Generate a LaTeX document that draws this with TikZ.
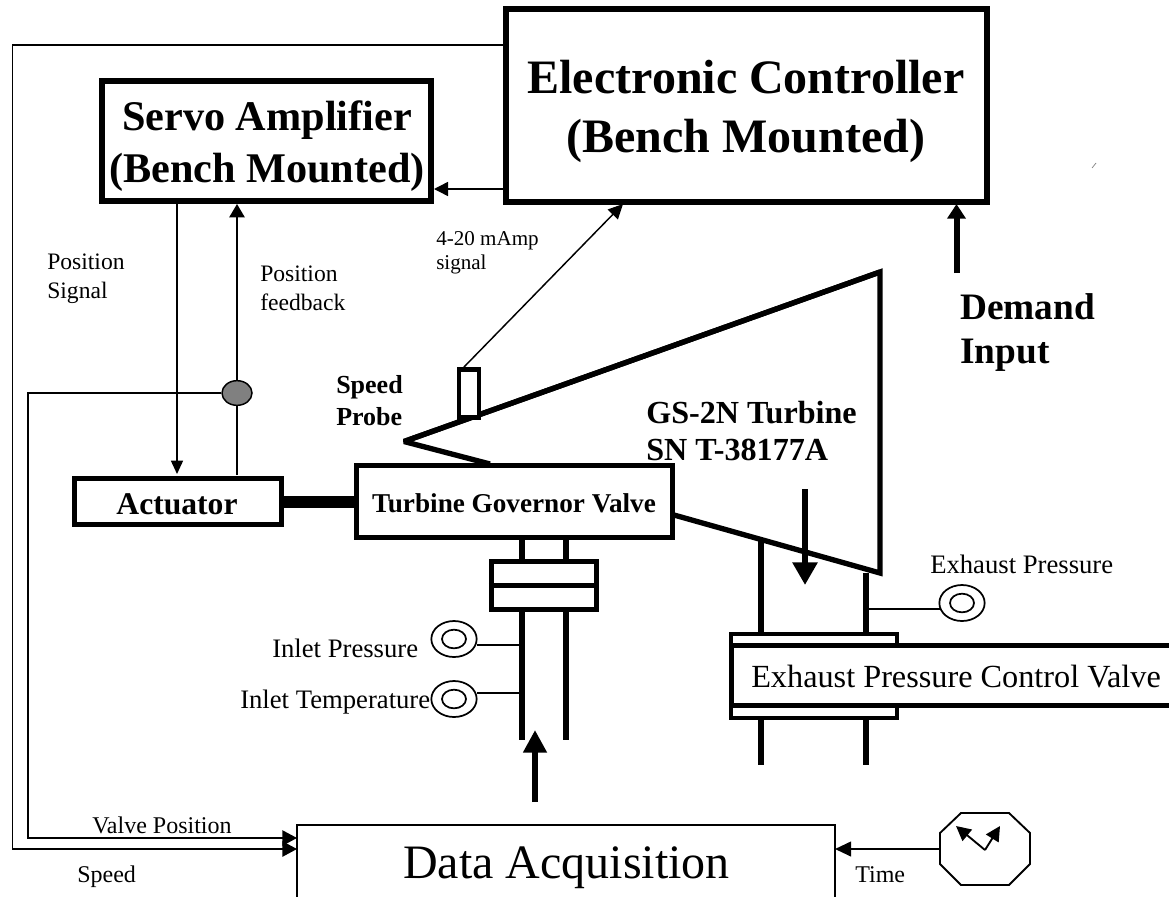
\documentclass[tikz,border=0pt]{standalone}
\usepackage{fontspec}
\setmainfont{Liberation Serif}
\usetikzlibrary{arrows.meta,shapes.geometric}
\tikzset{
  heavy/.style={draw=black,line width=3.75pt,fill=white,inner sep=0pt,minimum width=0pt},
  thin conn/.style={draw=black,line width=1.1pt},
  pipe/.style={draw=black,line width=3.9pt},
  label/.style={inner sep=0pt,anchor=base west},
  sensor/.style={draw=black,line width=1.3pt,fill=white,ellipse},
}
\begin{document}
\begin{tikzpicture}[x=0.75pt,y=-0.75pt]
\useasboundingbox (0,0) rectangle (1169,896);
\fill[white] (0,0) rectangle (1169,896);
% turbine
\coordinate (tipT) at (404,441.5);
\coordinate (tr) at (880,272);
\coordinate (br) at (880,573);
\coordinate (gv) at (674,515);
\coordinate (gt) at (490,464);
\draw[pipe,line width=4pt,line join=bevel] (gt) -- (tipT) -- (tr);
\draw[pipe,line width=4pt,miter limit=10] (tipT) -- (tr) -- (br) -- (gv);
% probe
\node[heavy,line width=3.4pt,minimum width=15pt,minimum height=36pt] (probe) at (469,393.5) {};
% main boxes
\node[heavy,line width=4.5pt,minimum width=360.5pt,minimum height=145pt] (ec) at (746.5,105.5) {};
\node[inner sep=0pt,align=center,font=\fontsize{36}{44}\bfseries\selectfont] (ect) at (746,111.5) {Electronic Controller\\(Bench Mounted)};
\node[heavy,line width=4.4pt,minimum width=247pt,minimum height=90pt] (sa) at (266.5,141) {};
\node[inner sep=0pt,align=center,font=\fontsize{31.7}{39}\bfseries\selectfont] (sat) at (267,146) {Servo Amplifier\\(Bench Mounted)};
\node[heavy,minimum width=155pt,minimum height=35pt] (act) at (178,501.5) {};
\node[inner sep=0pt,font=\fontsize{23.7}{26}\bfseries\selectfont] (actt) at (177,504) {Actuator};
\node[heavy,minimum width=237pt,minimum height=54pt] (gov) at (514,501.5) {};
\node[inner sep=0pt,font=\fontsize{20.4}{24}\bfseries\selectfont] (govt) at (514,503) {Turbine Governor Valve};
\draw[line width=9pt] (act.east) -- (gov.west);
% inlet pipes and flange
\coordinate (p1a) at (522,540); \coordinate (p2a) at (566,540);
\coordinate (p1b) at (522,740); \coordinate (p2b) at (566,740);
\draw[pipe] (p1a) -- (p1b);
\draw[pipe] (p2a) -- (p2b);
\node[heavy,minimum width=79pt,minimum height=36pt] (fl) at (544,585.5) {};
\draw[line width=3.75pt] (fl.west) -- (fl.east);
% inlet sensors
\foreach \n/\y/\ly in {ip/639/645,it/699/693}{
  \node[sensor,minimum width=34pt,minimum height=27pt,inner sep=0pt] (\n) at (454,\y) {};
  \node[sensor,minimum width=18pt,minimum height=14pt,inner sep=0pt] (\n i) at (454,\y) {};
  \coordinate (\n l) at (520,\ly);
  \coordinate (\n s) at (477,\ly);
  \draw[thin conn] (\n s) -- (\n l);
}
\node[label,font=\fontsize{20}{22}\selectfont] (ipt) at (272,657) {Inlet Pressure};
\node[label,font=\fontsize{20}{22}\selectfont] (itt) at (240,708) {Inlet Temperature};
% exhaust
\coordinate (e1a) at (761,540); \coordinate (e1b) at (761,632);
\coordinate (e2a) at (866,573); \coordinate (e2b) at (866,632);
\draw[pipe] (e1a) -- (e1b);
\draw[pipe] (e2a) -- (e2b);
\coordinate (e1c) at (761,720); \coordinate (e1d) at (761,765);
\coordinate (e2c) at (866,720); \coordinate (e2d) at (866,765);
\draw[pipe] (e1c) -- (e1d);
\draw[pipe] (e2c) -- (e2d);
\draw[draw=black,line width=3.4pt] (731,634) rectangle (897,718);
\draw[draw=black,line width=4.4pt,fill=white] (1185,645.5) -- (731.5,645.5) -- (731.5,705.5) -- (1185,705.5);
\node[label,font=\fontsize{24.2}{28}\selectfont] (ept) at (751,687) {Exhaust Pressure Control Valve};
\node[sensor,minimum width=34pt,minimum height=27pt,inner sep=0pt] (es) at (962,603) {};
\node[sensor,minimum width=18pt,minimum height=14pt,inner sep=0pt] (esi) at (962,603) {};
\coordinate (esa) at (866,609); \coordinate (esb) at (940,609);
\draw[thin conn] (esa) -- (esb);
\node[label,font=\fontsize{20}{22}\selectfont] (esl) at (930,573) {Exhaust Pressure};
% big arrows
\coordinate (xa) at (805,489); \coordinate (xb) at (805,585);
\draw[line width=5.2pt,-{Triangle[length=17pt,width=18pt]}] (xa) -- (xb);
\coordinate (ia) at (535,802); \coordinate (ib) at (535,730);
\draw[line width=4.5pt,-{Triangle[length=17pt,width=17pt]}] (ia) -- (ib);
\coordinate (da) at (956.5,273); \coordinate (db) at (956.5,204);
\draw[line width=4.5pt,-{Triangle[length=11pt,width=13.5pt]}] (da) -- (db);
% data acquisition
\draw[line width=1.5pt,fill=white] (297,905) -- (297,825) -- (835,825) -- (835,905);
\coordinate (dtop) at (297,838); \coordinate (dspd) at (297,849); \coordinate (dtime) at (835,849);
\node[label,font=\fontsize{36}{42}\selectfont] (dat) at (403,878) {Data Acquisition};
% clock
\draw[line width=1.4pt,fill=white] (961,813) -- (1009,813) -- (1030,833) -- (1030,864) -- (1009,885) -- (961,885) -- (940,864) -- (940,833) -- cycle;
\coordinate (cc) at (985,850);
\draw[line width=1.4pt,-{Triangle[length=11pt,width=11pt]}] (cc) -- (956,826);
\draw[line width=1.4pt,-{Triangle[length=11pt,width=11pt]}] (cc) -- (1000,826);
\coordinate (cl) at (940,849);
\draw[line width=1.5pt,-{Triangle[length=12pt,width=11pt]}] (cl) -- (dtime);
% signal lines
\coordinate (ta) at (503,45);
\draw[line width=1.1pt,-{Triangle[length=11pt,width=11.5pt]}] (ta) -- (12.5,45) -- (12.5,849) -- (dspd);
\node[draw=black,line width=1.1pt,fill=black!50,ellipse,minimum width=22.5pt,minimum height=18.5pt,inner sep=0pt] (sn) at (237,393) {};
\draw[line width=1.1pt,-{Triangle[length=11pt,width=11.5pt]}] (sn.west) -- (28,393) -- (28,838) -- (dtop);
\draw[thin conn,-{Triangle[length=10pt,width=9pt]}] (177,204) -- (177,474);
\draw[thin conn] (237,475) -- (sn.south);
\draw[thin conn,-{Triangle[length=10pt,width=11.5pt]}] (sn.north) -- (237,204);
\draw[thin conn,-{Triangle[length=10.5pt,width=10.5pt]}] (503,189) -- (434,189);
\draw[thin conn,-{Triangle[length=11pt,width=10.5pt]}] (464,367) -- (623,204);
\draw[line width=.5pt,gray] (1092,168) -- (1096,163);
% texts
\node[label,font=\fontsize{17.7}{18}\selectfont] (t1) at (47,269) {Position};
\node[label,font=\fontsize{17.7}{18}\selectfont] (t2) at (47,298) {Signal};
\node[label,font=\fontsize{17.7}{18}\selectfont] (t3) at (260,281) {Position};
\node[label,font=\fontsize{17.7}{18}\selectfont] (t4) at (260,310) {feedback};
\node[label,font=\fontsize{15.8}{18}\selectfont] (t5) at (436,245) {4-20 mAmp};
\node[label,font=\fontsize{15.8}{18}\selectfont] (t6) at (436,269) {signal};
\node[label,font=\fontsize{19.5}{20}\bfseries\selectfont] (t7) at (336,393) {Speed};
\node[label,font=\fontsize{19.5}{20}\bfseries\selectfont] (t8) at (336,425) {Probe};
\node[label,font=\fontsize{24.1}{26}\bfseries\selectfont] (t9) at (646,423) {GS-2N Turbine};
\node[label,font=\fontsize{24.1}{26}\bfseries\selectfont] (t10) at (646,460) {SN T-38177A};
\node[label,font=\fontsize{28}{30}\bfseries\selectfont] (t11) at (960,319) {Demand};
\node[label,font=\fontsize{28}{30}\bfseries\selectfont] (t12) at (960,363) {Input};
\node[label,font=\fontsize{18}{18}\selectfont] (t13) at (92,833) {Valve Position};
\node[label,font=\fontsize{18}{18}\selectfont] (t14) at (77,882) {Speed};
\node[label,font=\fontsize{18}{18}\selectfont] (t15) at (855,882) {Time};
\end{tikzpicture}
\end{document}
